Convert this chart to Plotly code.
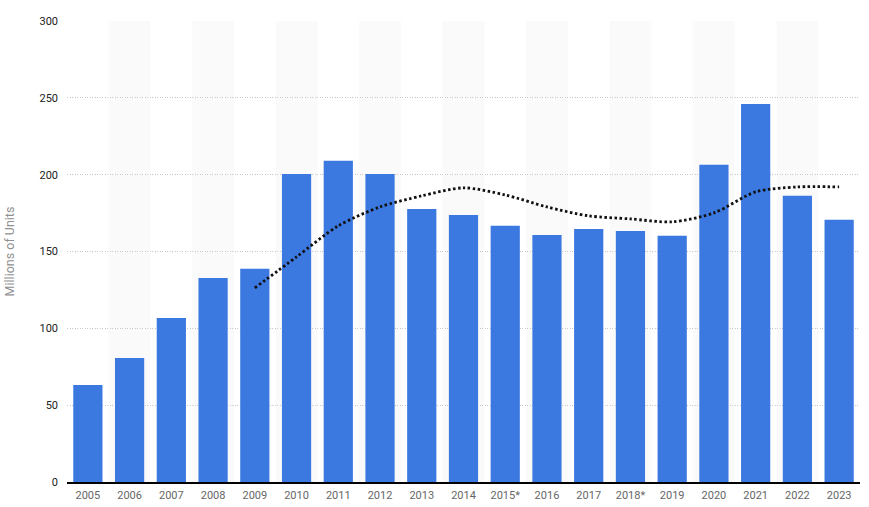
import plotly.graph_objects as go

years = ["2005", "2006", "2007", "2008", "2009", "2010", "2011", "2012", "2013", "2014",
         "2015*", "2016", "2017", "2018*", "2019", "2020", "2021", "2022", "2023"]
units = [63.2, 80.7, 106.8, 132.8, 138.7, 200.5, 209.0, 200.5, 177.7, 173.8,
         166.7, 160.8, 164.7, 163.4, 160.2, 206.4, 246.0, 186.2, 170.6]
trend_years = ["2009", "2010", "2011", "2012", "2013", "2014", "2015*", "2016", "2017", "2018*",
               "2019", "2020", "2021", "2022", "2023"]
trend = [126.3, 146.5, 166.7, 179.0, 186.2, 191.4, 186.8, 179.0, 173.2, 171.2,
         169.3, 175.1, 188.8, 192.0, 192.0]
y_ticks = [0, 50, 100, 150, 200, 250, 300]

fig = go.Figure()
fig.add_trace(go.Bar(x=years, y=units, marker=dict(color="#3b78e0", line=dict(width=0)),
                     showlegend=False))
fig.add_trace(go.Scatter(x=trend_years, y=trend, mode="lines",
                         line=dict(color="#111111", width=2.8, dash="2.5px,2.5px", shape="spline", smoothing=0.8),
                         showlegend=False))

shapes = []
for i in range(len(years)):
    if i % 2 == 1:
        shapes.append(dict(type="rect", xref="x", yref="paper", x0=i - 0.5, x1=i + 0.5,
                           y0=0, y1=1, fillcolor="#fafafa", line=dict(width=0), layer="below"))

fig.update_layout(
    width=869, height=507,
    margin=dict(l=67, r=9, t=21, b=25),
    paper_bgcolor="white", plot_bgcolor="white",
    bargap=0.3,
    shapes=shapes,
    font=dict(family="Roboto, Arial, sans-serif", size=11, color="#333333"),
    xaxis=dict(type="category", categoryorder="array", categoryarray=years,
               range=[-0.5, len(years) - 0.5], automargin=False,
               showgrid=False, showline=True, linecolor="#000000", linewidth=1.5,
               ticks="", tickfont=dict(size=11, color="#666666"), zeroline=False,
               ticklabelstandoff=2),
    yaxis=dict(range=[0, 300], tickvals=y_ticks, showgrid=True, gridcolor="#c8c8c8",
               griddash="1px,1.5px", gridwidth=1, zeroline=False, ticks="", automargin=False,
               tickfont=dict(size=11, color="#222222"), ticklabelstandoff=8,
               title=dict(text="Millions of Units", font=dict(size=12.5, color="#909090"), standoff=22)),
)

fig.write_html("out.html")
